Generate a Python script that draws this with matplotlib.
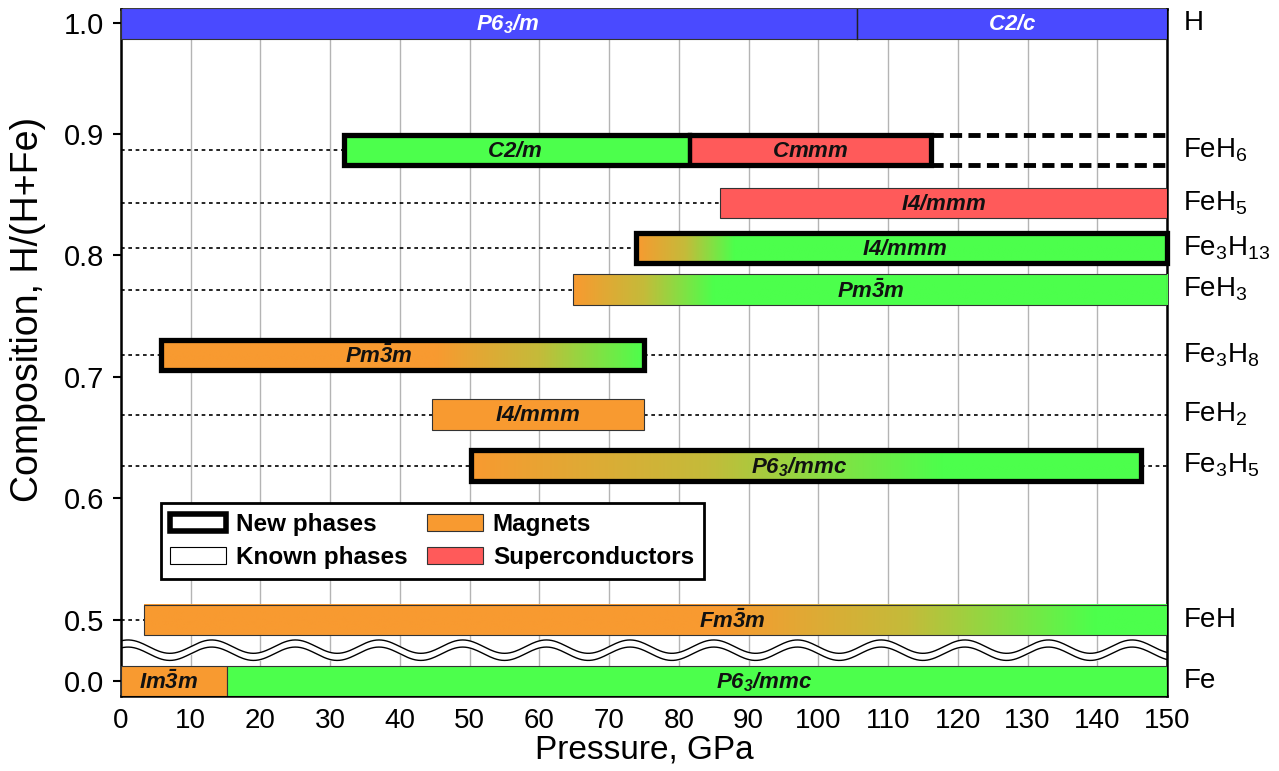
import numpy as np
import matplotlib
matplotlib.use('Agg')
import matplotlib.pyplot as plt
from matplotlib.patches import Rectangle, Patch
from matplotlib.colors import LinearSegmentedColormap

plt.rcParams['font.family'] = ['Liberation Sans', 'DejaVu Sans']
plt.rcParams['mathtext.fontset'] = 'custom'
plt.rcParams['mathtext.rm'] = 'Liberation Sans:italic:bold'
plt.rcParams['mathtext.it'] = 'Liberation Sans:italic:bold'
plt.rcParams['mathtext.bf'] = 'Liberation Sans:italic:bold'
plt.rcParams['mathtext.sf'] = 'Liberation Sans'

# rows of the diagram (composition H/(H+Fe) as placed in the figure)
compounds = ['H', 'FeH6', 'FeH5', 'Fe3H13', 'FeH3', 'Fe3H8', 'FeH2', 'Fe3H5', 'FeH', 'Fe']
compound_labels = [r'$\mathsf{H}$', r'$\mathsf{FeH_6}$', r'$\mathsf{FeH_5}$', r'$\mathsf{Fe_3H_{13}}$',
                   r'$\mathsf{FeH_3}$', r'$\mathsf{Fe_3H_8}$', r'$\mathsf{FeH_2}$', r'$\mathsf{Fe_3H_5}$',
                   r'$\mathsf{FeH}$', r'$\mathsf{Fe}$']
row_comp = [1.0, 0.887, 0.843, 0.806, 0.772, 0.718, 0.669, 0.627, 0.5, 0.0]
new_phases = ['FeH6', 'Fe3H13', 'Fe3H8', 'Fe3H5']

# phases: row, pressure range (GPa), space group, kind
phase_row = ['H', 'H', 'FeH6', 'FeH6', 'FeH5', 'Fe3H13', 'FeH3', 'Fe3H8', 'FeH2', 'Fe3H5', 'FeH', 'Fe', 'Fe']
phase_start = [0, 105.5, 32.0, 81.6, 85.9, 73.9, 64.8, 5.7, 44.6, 50.2, 3.3, 0, 15.2]
phase_end = [105.5, 150, 81.6, 116.2, 150, 150, 150, 75.0, 75.0, 146.3, 150, 15.2, 150]
phase_name = [r'$P6_3/m$', r'$C2/c$', r'$C2/m$', r'$Cmmm$', r'$I4/mmm$', r'$I4/mmm$',
              r'$Pm\bar{3}m$', r'$Pm\bar{3}m$', r'$I4/mmm$', r'$P6_3/mmc$', r'$Fm\bar{3}m$',
              r'$Im\bar{3}m$', r'$P6_3/mmc$']
phase_kind = ['hydrogen', 'hydrogen', 'plain', 'sc', 'sc', 'grad', 'grad', 'grad', 'magnet',
              'grad', 'grad', 'magnet', 'plain']
label_p = [55.5, 127.8, 56.5, 98.9, 118, 112.3, 107.6, 37, 59.8, 97.2, 87.6, 6.8, 92.2]
# magnetic -> non-magnetic transition range for the gradient bars
grad_from = [None, None, None, None, None, 73.9, 64.8, 45, None, 50.2, 86, None, None]
grad_to = [None, None, None, None, None, 88, 85, 75, None, 118, 140, None, None]

# open-ended (dashed) continuation
open_row = 'FeH6'
open_range = (116.2, 150)

ytick_vals = [1.0, 0.9, 0.8, 0.7, 0.6, 0.5, 0.0]
ytick_labels = ['1.0', '0.9', '0.8', '0.7', '0.6', '0.5', '0.0']

blue = '#4a4aff'
green = '#4cff4c'
red = '#ff5a5a'
orange = '#f89a30'
colors = {'hydrogen': blue, 'plain': green, 'sc': red, 'magnet': orange}
grad_cmap = LinearSegmentedColormap.from_list('mag', [orange, '#c4bb3a', green])


def ypos(c):
    # broken axis: 0.0 sits just below 0.5, 1.0 slightly compressed
    return np.interp(c, [0.0, 0.5, 0.9, 1.0], [0.45, 0.5, 0.9, 0.991])


fig = plt.figure(figsize=(12.79, 7.71), dpi=100)
ax = fig.add_axes([121 / 1279, 1 - 696 / 771, 1046 / 1279, 687 / 771])

h = 0.025
row_y = {c: ypos(v) for c, v in zip(compounds, row_comp)}

for r, p0, p1, name, kind, lp, g0, g1 in zip(phase_row, phase_start, phase_end, phase_name,
                                              phase_kind, label_p, grad_from, grad_to):
    y = row_y[r]
    if kind == 'grad':
        t = np.linspace(p0, p1, 400)
        v = np.clip((t - g0) / (g1 - g0), 0, 1)
        ax.imshow(v[None, :], extent=[p0, p1, y - h / 2, y + h / 2], aspect='auto',
                  cmap=grad_cmap, vmin=0, vmax=1, zorder=3, interpolation='bilinear')
        ax.add_patch(Rectangle((p0, y - h / 2), p1 - p0, h, fc='none', ec='#333333', lw=0.8, zorder=4))
    else:
        ax.add_patch(Rectangle((p0, y - h / 2), p1 - p0, h, fc=colors[kind], ec='#333333',
                               lw=0.8, zorder=3))
    tcol = 'white' if kind == 'hydrogen' else '#111111'
    ax.text(lp, y - 0.001, name, ha='center', va='center', fontsize=16, color=tcol, zorder=6)

# hydrogen row boundary
ax.plot([105.5, 105.5], [row_y['H'] - h / 2, row_y['H'] + h / 2], color='#222222', lw=1, zorder=4)

for c in compounds:
    y = row_y[c]
    starts = [s for r, s in zip(phase_row, phase_start) if r == c]
    ends = [e for r, e in zip(phase_row, phase_end) if r == c]
    s, e = min(starts), max(ends)
    if c == open_row:
        e_dot = 150
    else:
        e_dot = e
    # dotted guide lines
    if s > 0:
        ax.plot([0, s], [y, y], color='k', lw=1.2, ls=(0, (2.2, 2.2)), zorder=2)
    if e_dot < 150:
        ax.plot([e_dot, 150], [y, y], color='k', lw=1.2, ls=(0, (2.2, 2.2)), zorder=2)
    if c in new_phases:
        ax.add_patch(Rectangle((s, y - h / 2), e - s, h, fc='none', ec='k', lw=3.8, zorder=5,
                               joinstyle='miter', clip_on=False))
        for b in starts:
            if b > s:
                ax.plot([b, b], [y - h / 2, y + h / 2], color='k', lw=3.2, zorder=5)
    ax.text(1.015, y, compound_labels[compounds.index(c)], transform=ax.get_yaxis_transform(),
            ha='left', va='center', fontsize=20)

# dashed open end of FeH6
y6 = row_y[open_row]
for yy in (y6 - h / 2, y6 + h / 2):
    ax.plot(open_range, [yy, yy], color='k', lw=3.5, ls=(0, (2.5, 1.3)), zorder=5)

# axis break
xw = np.linspace(0, 150, 800)
wave = 0.0055 * np.cos(2 * np.pi * (xw - 1) / 12)
ax.fill_between(xw, 0.47218 + wave, 0.47803 + wave, color='white', zorder=2)
ax.plot(xw, 0.47803 + wave, color='k', lw=1, zorder=2.5)
ax.plot(xw, 0.47218 + wave, color='k', lw=1, zorder=2.5)

ax.set_xlim(0, 150)
ax.set_ylim(0.4374, 1.0029)
ax.set_xticks(range(0, 151, 10))
ax.set_yticks([ypos(v) for v in ytick_vals])
ax.set_yticklabels(ytick_labels)
ax.tick_params(axis='x', length=0, pad=9, labelsize=20)
ax.tick_params(axis='y', length=6, width=1.5, pad=6, labelsize=21)
ax.grid(axis='x', color='#b4b4b4', lw=1)
ax.set_axisbelow(True)
for sp in ax.spines.values():
    sp.set_linewidth(1.8)

ax.set_xlabel('Pressure, GPa', fontsize=24, labelpad=0)
ax.set_ylabel('Composition, H/(H+Fe)', fontsize=27)
ax.yaxis.set_label_coords(-0.072, 0.563)

handles = [Patch(fc='white', ec='k', lw=4, label='New phases'),
           Patch(fc='white', ec='k', lw=0.8, label='Known phases'),
           Patch(fc=orange, ec='#333333', lw=0.8, label='Magnets'),
           Patch(fc=red, ec='#333333', lw=0.8, label='Superconductors')]
leg = ax.legend(handles=handles, ncol=2, loc='upper left', bbox_to_anchor=(0.038, 0.281),
                prop={'weight': 'bold', 'size': 17.5}, frameon=True, fancybox=False,
                edgecolor='k', framealpha=1, handlelength=2.3, handleheight=0.7,
                handletextpad=0.4, columnspacing=0.8, borderpad=0.4, labelspacing=0.42,
                borderaxespad=0)
leg.get_frame().set_linewidth(2)
leg.set_zorder(7)

fig.savefig('out.png', dpi=100)
